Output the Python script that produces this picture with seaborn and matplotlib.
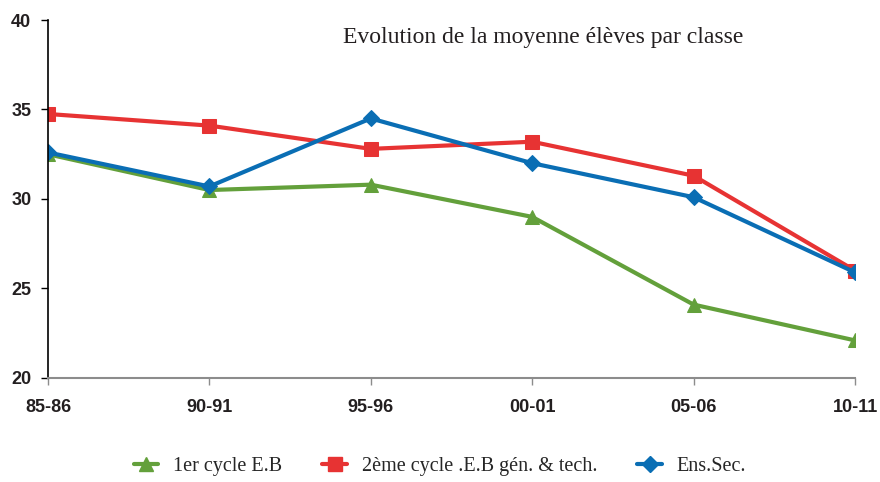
import numpy as np
import pandas as pd
import seaborn as sns
import matplotlib.pyplot as plt
from matplotlib.lines import Line2D

years = ['85-86', '90-91', '95-96', '00-01', '05-06', '10-11']
cycle1 = [32.5, 30.5, 30.8, 29.0, 24.1, 22.1]
cycle2 = [34.75, 34.1, 32.8, 33.2, 31.3, 26.0]
ens_sec = [32.6, 30.7, 34.5, 32.0, 30.1, 25.9]

labels = ['1er cycle E.B', '2ème cycle .E.B gén. & tech.', 'Ens.Sec.']
colors = ['#63a03b', '#e73333', '#0a6eb4']
markers = ['^', 's', 'D']
msizes = [10, 10, 8]

sns.set_style('white')

fig = plt.figure(figsize=(8.8, 4.82), dpi=100)
ax = fig.add_axes([0.0545, 0.2158, 0.9171, 0.7427])

for vals, lab, col, mk, ms in zip([cycle1, cycle2, ens_sec], labels, colors, markers, msizes):
    df = pd.DataFrame({'x': np.arange(len(years)), 'y': vals})
    sns.lineplot(data=df, x='x', y='y', ax=ax, color=col, linewidth=3,
                 marker=mk, markersize=ms, markeredgecolor=col, legend=False)

ax.set_xlim(0, len(years) - 1)
ax.set_ylim(20, 40)
ax.set_xticks(np.arange(len(years)))
ax.set_xticklabels(years)
ax.set_yticks([20, 25, 30, 35, 40])
ax.set_xlabel('')
ax.set_ylabel('')
for lbl in ax.get_xticklabels() + ax.get_yticklabels():
    lbl.set_fontfamily('Liberation Sans')
    lbl.set_fontweight('bold')
    lbl.set_fontsize(13)
    lbl.set_color('#231f20')

ax.spines['top'].set_visible(False)
ax.spines['right'].set_visible(False)
ax.spines['left'].set_color('black')
ax.spines['left'].set_linewidth(1.2)
ax.spines['bottom'].set_color('#8c8c8c')
ax.spines['bottom'].set_linewidth(1.5)
ax.tick_params(axis='y', direction='out', length=5, width=1, color='black', left=True, pad=7)
ax.tick_params(axis='x', direction='out', length=5, width=1, color='#8c8c8c', bottom=True, pad=10)

ax.text(0.614, 0.95, 'Evolution de la moyenne élèves par classe', transform=ax.transAxes,
        ha='center', va='center', fontfamily='Liberation Serif', fontsize=17, color='#231f20')

handles = [Line2D([], [], color=c, marker=m, markersize=ms, linewidth=3)
           for c, m, ms in zip(colors, markers, msizes)]
fig.legend(handles, labels, loc='center', bbox_to_anchor=(0.5, 0.033), ncol=3, frameon=False,
           prop={'family': 'Liberation Serif', 'size': 14.5}, columnspacing=2.0,
           handlelength=1.2, handletextpad=0.75)

fig.savefig('out.png', dpi=100, facecolor='white')
